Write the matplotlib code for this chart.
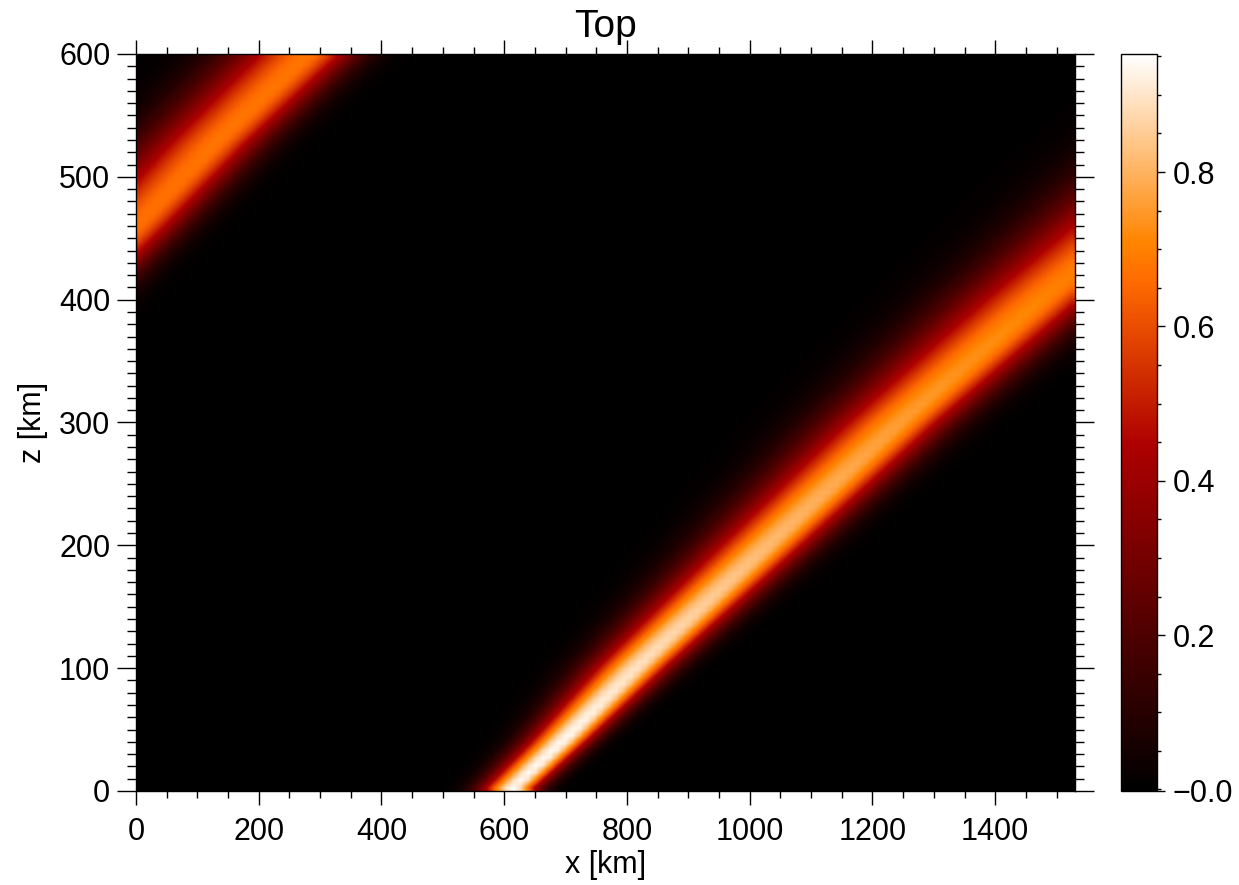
import numpy as np
import matplotlib
matplotlib.use("Agg")
import matplotlib.pyplot as plt
from matplotlib.colors import LinearSegmentedColormap, Normalize
from matplotlib.ticker import MultipleLocator

plt.rcParams['font.family'] = ['Liberation Sans', 'DejaVu Sans']

# ---- data ----
x_max_km = 1530.0
z_max_km = 600.0
nx, nz = 128, 100

# main band (lower right): centre line, peak value, half-widths (in x, km)
main_z = [0, 40, 100, 200, 300, 400, 500, 650]
main_xc = [615, 700, 820, 1035, 1250, 1480, 1720, 2080]
main_amp = [0.95, 0.95, 0.90, 0.82, 0.76, 0.71, 0.66, 0.6]
main_sigL = [36, 42, 54, 70, 84, 96, 108, 118]
main_sigR = [28, 31, 39, 49, 56, 62, 66, 70]

# upper-left band
up_z = [300, 463, 530, 593, 650]
up_xc = [-330, 0, 127, 258, 380]
up_amp = [0.64, 0.67, 0.68, 0.68, 0.68]
up_sigL = [78, 78, 82, 86, 90]
up_sigR = [50, 50, 52, 54, 56]

x_ticks = [0, 200, 400, 600, 800, 1000, 1200, 1400]
z_ticks = [0, 100, 200, 300, 400, 500, 600]
cb_ticks = [-0.002, 0.2, 0.4, 0.6, 0.8]
cb_labels = ['\u22120.0', '0.2', '0.4', '0.6', '0.8']
cb_min, cb_max = -0.002, 0.953

# ---- build field ----
x = np.linspace(0, x_max_km, nx)
z = np.linspace(0, z_max_km, nz)
X, Z = np.meshgrid(x, z)


def band(zs, xcs, amps, sl, sr):
    xc = np.interp(Z, zs, xcs)
    a = np.interp(Z, zs, amps)
    sL = np.interp(Z, zs, sl)
    sR = np.interp(Z, zs, sr)
    d = X - xc
    s = np.where(d < 0, sL, sR)
    return a * np.exp(-0.5 * (d / s) ** 2)


field = np.maximum(band(main_z, main_xc, main_amp, main_sigL, main_sigR),
                   band(up_z, up_xc, up_amp, up_sigL, up_sigR))

cmap = LinearSegmentedColormap('idl_redtemp', {
    'red': [(0, 0, 0), (0.69, 1, 1), (1, 1, 1)],
    'green': [(0, 0, 0), (0.47, 0, 0), (1, 1, 1)],
    'blue': [(0, 0, 0), (0.745, 0, 0), (1, 1, 1)],
})

fig = plt.figure(figsize=(12.39, 8.85), dpi=100)
ax = fig.add_axes([136 / 1239, 1 - 791 / 885, (1075 - 136) / 1239, (791 - 54) / 885])
cax = fig.add_axes([1121 / 1239, 1 - 791 / 885, 36 / 1239, (791 - 54) / 885])

im = ax.imshow(field, origin='lower', cmap=cmap, norm=Normalize(cb_min, cb_max),
               extent=[0, x_max_km, 0, z_max_km], aspect='auto', interpolation='bilinear')
ax.set_xlim(0, x_max_km)
ax.set_ylim(0, z_max_km)

ax.set_xticks(x_ticks)
ax.set_yticks(z_ticks)
ax.xaxis.set_minor_locator(MultipleLocator(50))
ax.yaxis.set_minor_locator(MultipleLocator(10))
ax.tick_params(axis='both', which='both', direction='out', top=True, right=True,
               labelsize=22, width=1, color='black')
ax.tick_params(axis='y', which='major', length=13.5, pad=5)
ax.tick_params(axis='y', which='minor', length=6.5)
ax.tick_params(axis='x', which='major', length=10, pad=9)
ax.tick_params(axis='x', which='minor', length=5)
for sp in ax.spines.values():
    sp.set_linewidth(1)

ax.set_title('Top', fontsize=28, pad=12)
ax.set_xlabel('x [km]', fontsize=22, labelpad=2)
ax.set_ylabel('z [km]', fontsize=22, labelpad=8)

cb = fig.colorbar(im, cax=cax)
cb.set_ticks(cb_ticks)
cb.set_ticklabels(cb_labels)
cax.yaxis.set_minor_locator(MultipleLocator(0.05))
cax.tick_params(which='both', direction='out', labelsize=22, width=1)
cax.tick_params(which='major', length=6, pad=5)
cax.tick_params(which='minor', length=3)
cb.outline.set_linewidth(1)

fig.savefig('out.png', dpi=100)
